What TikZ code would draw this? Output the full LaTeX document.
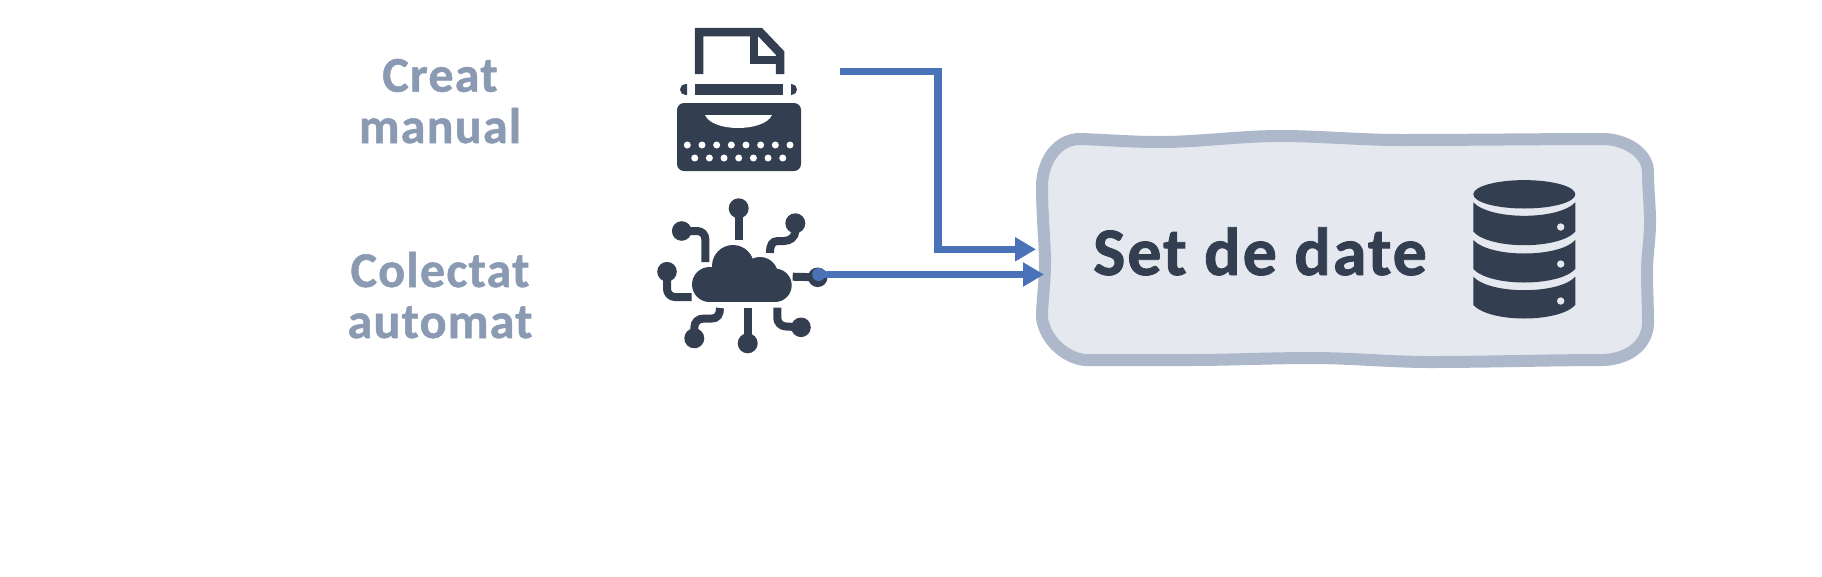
\documentclass[tikz,border=0pt]{standalone}
\usepackage{fontspec}
\setmainfont{Carlito}
\newfontfamily\boxfont[LetterSpace=3,BoldFeatures={FakeBold=1.3}]{Carlito}
\newfontfamily\sidefont[LetterSpace=2.5,BoldFeatures={FakeBold=1}]{Carlito}
\usetikzlibrary{arrows.meta}
\definecolor{inkdark}{HTML}{333F50}
\definecolor{inklight}{HTML}{8A9AB2}
\definecolor{flowblue}{HTML}{4A72B8}
\definecolor{boxfill}{HTML}{E5E8EF}
\definecolor{boxedge}{HTML}{AEB8CB}
\tikzset{
  flow/.style={draw=flowblue,line width=7.5pt,-{Triangle[length=21pt,width=23pt,fill=flowblue]}},
  wire/.style={draw=inkdark,line width=8pt},
  bead/.style={fill=inkdark},
  lefttext/.style={anchor=base,inner sep=0pt,text=inklight,font=\sidefont\bfseries\fontsize{50}{50}\selectfont},
  boxtext/.style={anchor=base,inner sep=0pt,text=inkdark,font=\boxfont\bfseries\fontsize{68}{68}\selectfont}
}
\begin{document}
\begin{tikzpicture}[x=1pt,y=-1pt]
\useasboundingbox (0,0) rectangle (1822,576);
% data set box
\draw[fill=boxfill,draw=boxedge,line width=12pt,line join=round]
  (1080,139) .. controls (1110,140) and (1130,142) .. (1160,142)
  .. controls (1200,142) and (1240,136) .. (1280,136)
  .. controls (1320,136) and (1360,140) .. (1400,140)
  .. controls (1470,140) and (1540,139) .. (1606,139)
  .. controls (1630,141) and (1648,155) .. (1648,172)
  .. controls (1648,190) and (1650,205) .. (1650,222)
  .. controls (1650,240) and (1647,255) .. (1647,272)
  .. controls (1647,290) and (1648,305) .. (1648,325)
  .. controls (1646,345) and (1630,358) .. (1605,360)
  .. controls (1550,360) and (1490,362) .. (1430,362)
  .. controls (1390,362) and (1350,358) .. (1313,358)
  .. controls (1270,358) and (1230,360) .. (1190,360)
  .. controls (1150,360) and (1115,360) .. (1085,360)
  .. controls (1065,358) and (1045,340) .. (1042,318)
  .. controls (1042,300) and (1045,285) .. (1045,262)
  .. controls (1045,245) and (1042,215) .. (1042,187)
  .. controls (1042,160) and (1058,139) .. (1080,139) -- cycle;
\node[boxtext] (settext) at (1260,275) {Set de date};
% database
\fill[inkdark] (1524.3,194.3) ellipse [x radius=51,y radius=14.2];
\foreach \t/\b/\d in {202.3/231.7/227,240/269/264,276.7/305/301}{
  \fill[inkdark] (1473.3,\t) .. controls (1490,\t+18) and (1558.6,\t+18) .. (1575.3,\t)
    -- (1575.3,\b) .. controls (1558.6,\b+18) and (1490,\b+18) .. (1473.3,\b) -- cycle;
  \fill[boxfill] (1560.7,\d) circle (3.7);
}
% typewriter
\draw[draw=inkdark,line width=8.5pt,miter limit=4] (699,74) -- (699,32) -- (760,32) -- (780,53) -- (780,74);
\draw[draw=inkdark,line width=8pt] (754,32) -- (754,60) -- (780,60);
\fill[inkdark] (695,84) rectangle (783,95);
\fill[inkdark] (687,84) -- (687,95) -- (685.5,95) arc[start angle=90,delta angle=180,radius=5.5] -- cycle;
\fill[inkdark] (791,84) -- (791,95) -- (791.5,95) arc[start angle=90,delta angle=-180,radius=5.5] -- cycle;
\fill[inkdark,rounded corners=7pt] (677,103) rectangle (801,171);
\fill[white] (705,115) -- (772,115) .. controls (768,124) and (752,128) .. (738,128) .. controls (724,128) and (709,124) .. (705,115) -- cycle;
\foreach \x in {0,...,7}{\fill[white] (687.3+14.67*\x,145) circle (3.5);}
\foreach \x in {0,...,6}{\fill[white] (694.7+14.67*\x,158) circle (3.5);}
% cloud
\fill[inkdark] (709.5,284.5) circle (17.5);
\fill[inkdark] (733,266) circle (21);
\fill[inkdark] (760,275) circle (18);
\fill[inkdark] (775,285.3) circle (16.7);
\fill[inkdark] (709.5,275) rectangle (775,302);
% cloud wires
\coordinate (w1) at (738.7,208.3); \coordinate (w1e) at (738.7,240);
\coordinate (w2) at (795.3,223.3);
\coordinate (w3) at (681.7,231);
\coordinate (w4) at (667,271.7);
\coordinate (w5) at (694.3,338.3);
\coordinate (w6) at (747.7,343.3); \coordinate (w6e) at (747.7,307.7);
\coordinate (w7) at (801,327.3);
\coordinate (w8) at (817.7,277.3); \coordinate (w8e) at (792.7,276.7);
\draw[wire] (w1) -- (w1e);
\draw[wire] (w6) -- (w6e);
\draw[wire] (w8) -- (w8e);
\draw[wire] (w2) -- (795.3,231) .. controls (795.3,237) and (790,241) .. (784,241) -- (778,241) .. controls (772,241) and (770,245) .. (770,253);
\draw[wire,rounded corners=8pt] (w3) -- (705.3,231) -- (705.3,262);
\draw[wire,rounded corners=8pt] (w4) -- (667,297) -- (691.7,297);
\draw[wire] (w5) -- (694.3,328) .. controls (694.3,322) and (698,318.5) .. (704,318.5) -- (712,318.5) .. controls (717,318.5) and (720,315) .. (720,308);
\draw[wire,rounded corners=8pt] (777.3,307.7) -- (777.3,326) -- (w7);
\foreach \c/\r in {w1/10,w2/10,w3/9.8,w4/9.8,w5/10,w6/10,w7/9.8,w8/9.8}{\fill[bead] (\c) circle (\r);}
% labels
\node[lefttext] (creat) at (440,91.7) {Creat};
\node[lefttext] (manual) at (440,143) {manual};
\node[lefttext] (colectat) at (440,287) {Colectat};
\node[lefttext] (automat) at (440,338) {automat};
% connectors
\coordinate (printout) at (840,71.7);
\coordinate (boxinA) at (1036,249.3);
\coordinate (cloudout) at (815,274.5);
\coordinate (boxinB) at (1044,274.5);
\draw[flow] (printout) -| (938,249.3) -- (boxinA);
\draw[flow] (cloudout) -- (boxinB);
\fill[flowblue] (818.7,274.5) circle (6.5);
\end{tikzpicture}
\end{document}
